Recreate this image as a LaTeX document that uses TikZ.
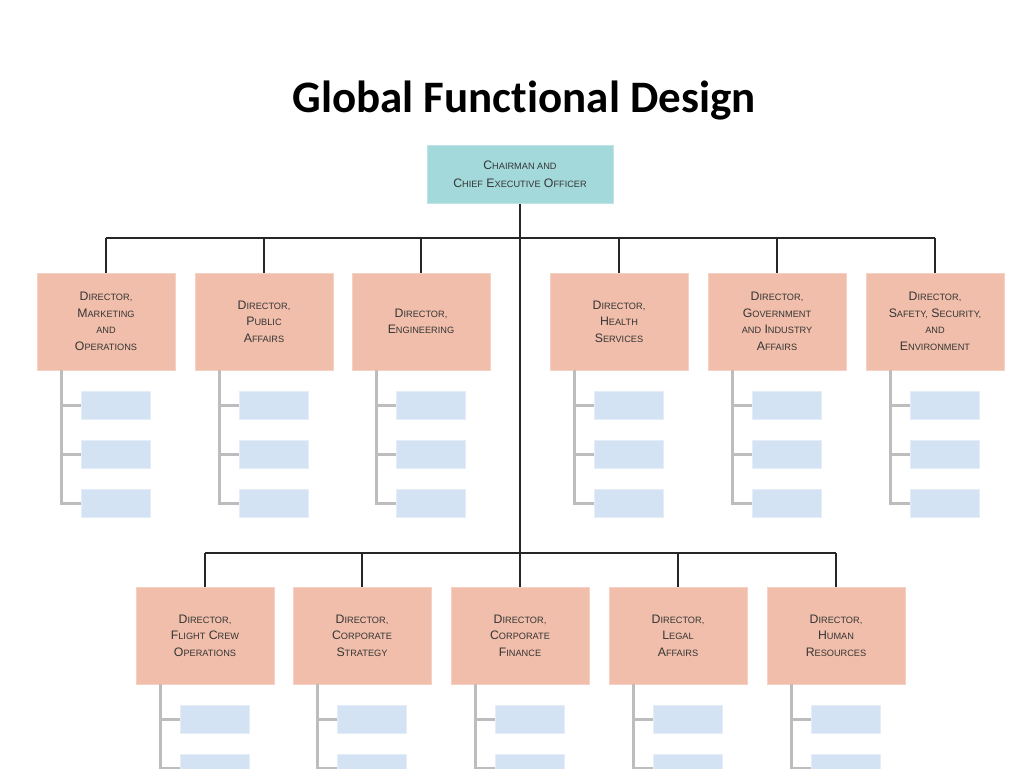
\documentclass[tikz,border=0pt]{standalone}
\usepackage{fontspec}
\setmainfont{Liberation Sans}
\newfontfamily\titlefont[Ligatures=NoCommon]{Carlito}
\usetikzlibrary{calc}
\definecolor{ceofill}{HTML}{A3D9DA}
\definecolor{dirfill}{HTML}{F0BEAA}
\definecolor{subfill}{HTML}{D3E3F4}
\definecolor{spine}{HTML}{BDBDBD}
\definecolor{txt}{HTML}{353535}
\newcommand\Bg[1]{{\fontsize{12.3}{16.5}\selectfont #1}}
\newcommand\Sm[1]{{\fontsize{9.2}{16.5}\selectfont #1}}
\tikzset{
  ceobox/.style={fill=ceofill, draw=ceofill!70!white, line width=1pt, minimum width=186pt, minimum height=58pt, inner sep=0pt, align=center, text=txt, font=\fontsize{12}{18}\selectfont},
  dirbox/.style={fill=dirfill, draw=dirfill!70!white, line width=1pt, minimum width=138pt, minimum height=97pt, inner sep=0pt, align=center, text=txt, font=\fontsize{12}{16.5}\selectfont},
  subbox/.style={fill=subfill, draw=subfill!60!white, line width=0.8pt, minimum width=69pt, minimum height=28pt, inner sep=0pt},
  blk/.style={draw=black!85, line width=1.5pt},
  gry/.style={draw=spine, line width=3pt},
}
\begin{document}
\begin{tikzpicture}[x=1pt,y=-1pt]
\useasboundingbox (0,0) rectangle (1024,768);
\clip (0,0) rectangle (1024,768);
\node[font=\titlefont\bfseries\fontsize{45}{50}\selectfont] (title) at (524,101) {Global Functional Design};
\node[ceobox] (ceo) at (520,174) {\Bg{C}\Sm{HAIRMAN AND}\\\Bg{C}\Sm{HIEF} \Bg{E}\Sm{XECUTIVE} \Bg{O}\Sm{FFICER}};
\coordinate (bt) at (520,238);
\coordinate (bb) at (520,553);
% top row
\foreach \n/\cx/\t in {
  d1/106/{\Bg{D}\Sm{IRECTOR,}\\\Bg{M}\Sm{ARKETING}\\\Sm{AND}\\\Bg{O}\Sm{PERATIONS}},
  d2/264/{\Bg{D}\Sm{IRECTOR,}\\\Bg{P}\Sm{UBLIC}\\\Bg{A}\Sm{FFAIRS}},
  d3/421/{\Bg{D}\Sm{IRECTOR,}\\\Bg{E}\Sm{NGINEERING}},
  d4/619/{\Bg{D}\Sm{IRECTOR,}\\\Bg{H}\Sm{EALTH}\\\Bg{S}\Sm{ERVICES}},
  d5/777/{\Bg{D}\Sm{IRECTOR,}\\\Bg{G}\Sm{OVERNMENT}\\\Sm{AND} \Bg{I}\Sm{NDUSTRY}\\\Bg{A}\Sm{FFAIRS}},
  d6/935/{\Bg{D}\Sm{IRECTOR,}\\\Bg{S}\Sm{AFETY,} \Bg{S}\Sm{ECURITY,}\\\Sm{AND}\\\Bg{E}\Sm{NVIRONMENT}}}{
  \node[dirbox] (\n) at (\cx,321.5) {\t};
  \draw[blk] (\n.north) -- (\n.north |- bt);
  \node[subbox] (\n a) at (\cx+9.5,405) {};
  \node[subbox] (\n b) at (\cx+9.5,454) {};
  \node[subbox] (\n c) at (\cx+9.5,503) {};
  \coordinate (\n s) at (\cx-45,370);
  \draw[gry] (\n s) -- (\n s |- \n c.west) -- (\n c.west);
  \draw[gry] (\n s |- \n a.west) -- (\n a.west);
  \draw[gry] (\n s |- \n b.west) -- (\n b.west);
}
% bottom row
\foreach \n/\cx/\t in {
  e1/205/{\Bg{D}\Sm{IRECTOR,}\\\Bg{F}\Sm{LIGHT} \Bg{C}\Sm{REW}\\\Bg{O}\Sm{PERATIONS}},
  e2/362/{\Bg{D}\Sm{IRECTOR,}\\\Bg{C}\Sm{ORPORATE}\\\Bg{S}\Sm{TRATEGY}},
  e3/520/{\Bg{D}\Sm{IRECTOR,}\\\Bg{C}\Sm{ORPORATE}\\\Bg{F}\Sm{INANCE}},
  e4/678/{\Bg{D}\Sm{IRECTOR,}\\\Bg{L}\Sm{EGAL}\\\Bg{A}\Sm{FFAIRS}},
  e5/836/{\Bg{D}\Sm{IRECTOR,}\\\Bg{H}\Sm{UMAN}\\\Bg{R}\Sm{ESOURCES}}}{
  \node[dirbox] (\n) at (\cx,635.5) {\t};
  \draw[blk] (\n.north) -- (\n.north |- bb);
  \node[subbox] (\n a) at (\cx+9.5,719) {};
  \node[subbox] (\n b) at (\cx+9.5,768) {};
  \coordinate (\n s) at (\cx-45,684);
  \draw[gry] (\n s) -- (\n s |- \n b.west) -- (\n b.west);
  \draw[gry] (\n s |- \n a.west) -- (\n a.west);
  \draw[gry] (\n s |- \n b.south) -- (\n s |- \n b.west);
}
\draw[blk] (ceo.south) -- (bb);
\draw[blk] (d1.north |- bt) -- (d6.north |- bt);
\draw[blk] (e1.north |- bb) -- (e5.north |- bb);
\end{tikzpicture}
\end{document}
